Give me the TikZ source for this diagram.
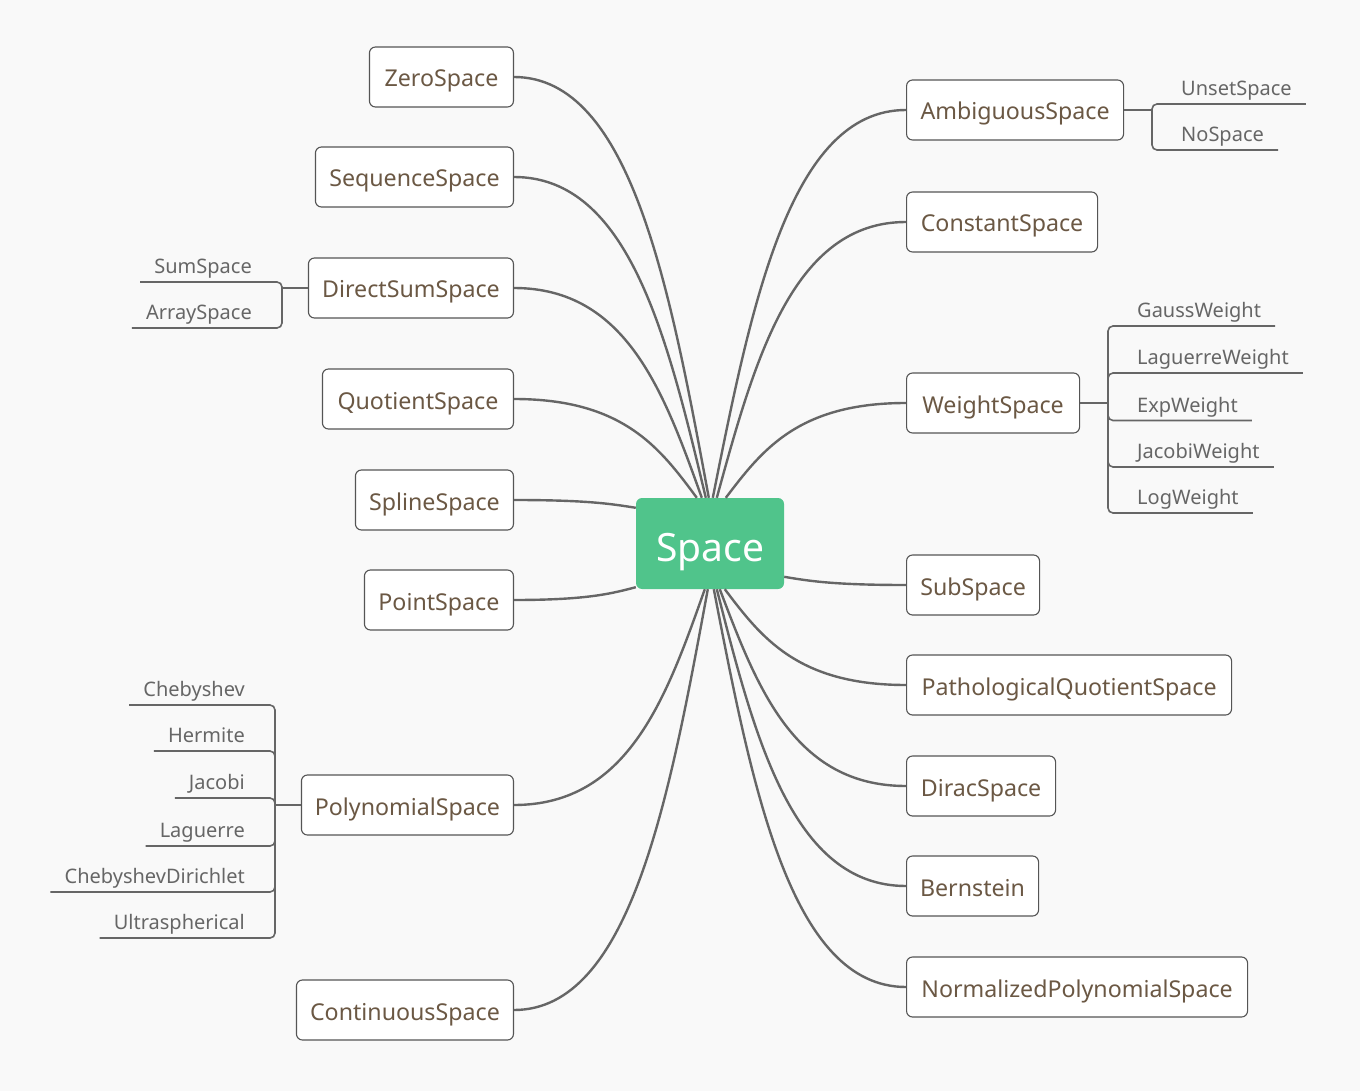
\documentclass[tikz,border=0pt]{standalone}
\usepackage{fontspec}
\setmainfont{Noto Sans}
\usetikzlibrary{calc}
\definecolor{bg}{HTML}{F9F9F9}
\definecolor{lnc}{HTML}{666666}
\definecolor{txt}{HTML}{6B5844}
\definecolor{bdr}{HTML}{555555}
\definecolor{cen}{HTML}{50C48B}
\definecolor{chl}{HTML}{666666}
\tikzset{
 topic/.style={draw=bdr, line width=1.1pt, fill=white, rounded corners=6pt, minimum height=60pt, inner xsep=0pt, text=txt, font=\fontsize{23.2}{28}\selectfont, text height=20pt, text depth=0pt},
 central/.style={fill=cen, rounded corners=6pt, minimum width=148pt, minimum height=91pt, inner sep=0pt, text=white, font=\fontsize{39}{46}\selectfont, text height=36pt, text depth=0pt},
 leaf/.style={text=chl, font=\fontsize{20}{24}\selectfont, inner sep=0pt},
 conn/.style={draw=lnc, line width=2.4pt},
 subl/.style={draw=lnc, line width=1.6pt, rounded corners=5pt},
}
\newcommand\mybranch[2]{\draw[conn] let \p1=(#1), \p2=(#2) in (\p1) .. controls (0.4*\x1+0.6*\x2, \y1) and (0.2*\x1+0.8*\x2, 0.5*\y1+0.5*\y2) .. (\p2);}
\begin{document}
\begin{tikzpicture}[x=1pt,y=-1pt]
\fill[bg] (0,0) rectangle (1360,1091);
\useasboundingbox (0,0) rectangle (1360,1091);
\node[central] (space) at (710,543.5) {Space};
% left topics
\node[topic, minimum width=144pt, anchor=east] (zero) at (514,77) {ZeroSpace};
\node[topic, minimum width=198pt, anchor=east] (seq) at (514,177) {SequenceSpace};
\node[topic, minimum width=205pt, anchor=east] (dsum) at (514,288) {DirectSumSpace};
\node[topic, minimum width=191pt, anchor=east] (quo) at (514,399) {QuotientSpace};
\node[topic, minimum width=158pt, anchor=east] (spl) at (514,500) {SplineSpace};
\node[topic, minimum width=149pt, anchor=east] (pt) at (514,600) {PointSpace};
\node[topic, minimum width=212pt, anchor=east] (poly) at (514,805) {PolynomialSpace};
\node[topic, minimum width=217pt, anchor=east] (cont) at (514,1010) {ContinuousSpace};
% right topics
\node[topic, minimum width=217pt, anchor=west] (amb) at (906,110) {AmbiguousSpace};
\node[topic, minimum width=191pt, anchor=west] (con) at (906,222) {ConstantSpace};
\node[topic, minimum width=173pt, anchor=west] (wei) at (906,403) {WeightSpace};
\node[topic, minimum width=133pt, anchor=west] (sub) at (906,585) {SubSpace};
\node[topic, minimum width=325pt, anchor=west] (path) at (906,685) {PathologicalQuotientSpace};
\node[topic, minimum width=149pt, anchor=west] (dir) at (906,786) {DiracSpace};
\node[topic, minimum width=132pt, anchor=west] (bern) at (906,886) {Bernstein};
\node[topic, minimum width=341pt, anchor=west] (norm) at (906,987) {NormalizedPolynomialSpace};
% targets on the central node
\coordinate (tQuo) at ($(space.north west)+(61,0)$);
\coordinate (tDS) at ($(space.north west)+(66,0)$);
\coordinate (tSeq) at ($(space.north west)+(70,0)$);
\coordinate (tZero) at ($(space.north west)+(73,0)$);
\coordinate (tAmb) at ($(space.north west)+(77,0)$);
\coordinate (tCon) at ($(space.north west)+(81,0)$);
\coordinate (tWei) at ($(space.north west)+(90,0)$);
\coordinate (tPoly) at ($(space.south west)+(69,0)$);
\coordinate (tCont) at ($(space.south west)+(72,0)$);
\coordinate (tNorm) at ($(space.south west)+(78,0)$);
\coordinate (tBern) at ($(space.south west)+(81,0)$);
\coordinate (tDir) at ($(space.south west)+(84,0)$);
\coordinate (tPath) at ($(space.south west)+(89,0)$);
\coordinate (tSpl) at ($(space.north west)+(0,10)$);
\coordinate (tPt) at ($(space.south west)+(0,-2)$);
\coordinate (tSub) at ($(space.north east)+(0,79)$);
% main connectors
\mybranch{zero.east}{tZero}
\mybranch{seq.east}{tSeq}
\mybranch{dsum.east}{tDS}
\mybranch{quo.east}{tQuo}
\mybranch{spl.east}{tSpl}
\mybranch{pt.east}{tPt}
\mybranch{poly.east}{tPoly}
\mybranch{cont.east}{tCont}
\mybranch{amb.west}{tAmb}
\mybranch{con.west}{tCon}
\mybranch{wei.west}{tWei}
\mybranch{sub.west}{tSub}
\mybranch{path.west}{tPath}
\mybranch{dir.west}{tDir}
\mybranch{bern.west}{tBern}
\mybranch{norm.west}{tNorm}
% AmbiguousSpace children
\coordinate (ambj) at (1152,110);
\draw[subl] (amb.east) -- (ambj);
\node[leaf, anchor=base west] (unset) at (1181,95.5) {UnsetSpace};
\node[leaf, anchor=base west] (nosp) at (1181,141.5) {NoSpace};
\draw[subl] (ambj) |- ($(unset.base east)+(14,8.5)$);
\draw[subl] (ambj) |- ($(nosp.base east)+(14,8.5)$);
% WeightSpace children
\coordinate (weij) at (1108,403);
\draw[subl] (wei.east) -- (weij);
\node[leaf, anchor=base west] (gw) at (1137,317.5) {GaussWeight};
\node[leaf, anchor=base west] (lw) at (1137,364.5) {LaguerreWeight};
\node[leaf, anchor=base west] (ew) at (1137,412) {ExpWeight};
\node[leaf, anchor=base west] (jw) at (1137,458.5) {JacobiWeight};
\node[leaf, anchor=base west] (logw) at (1137,504.5) {LogWeight};
\foreach \n in {gw,lw,ew,jw,logw}{\draw[subl] (weij) |- ($(\n.base east)+(14,8.5)$);}
% DirectSumSpace children
\coordinate (dsj) at (282,288);
\draw[subl] (dsum.west) -- (dsj);
\node[leaf, anchor=base east] (sums) at (252,273.5) {SumSpace};
\node[leaf, anchor=base east] (arrs) at (252,319.5) {ArraySpace};
\foreach \n in {sums,arrs}{\draw[subl] (dsj) |- ($(\n.base west)+(-14,8.5)$);}
% PolynomialSpace children
\coordinate (polyj) at (275,805);
\draw[subl] (poly.west) -- (polyj);
\node[leaf, anchor=base east] (cheb) at (245,696.5) {Chebyshev};
\node[leaf, anchor=base east] (herm) at (245,742.5) {Hermite};
\node[leaf, anchor=base east] (jac) at (245,789.5) {Jacobi};
\node[leaf, anchor=base east] (lag) at (245,837.5) {Laguerre};
\node[leaf, anchor=base east] (chd) at (245,883.5) {ChebyshevDirichlet};
\node[leaf, anchor=base east] (ult) at (245,929.5) {Ultraspherical};
\foreach \n in {cheb,herm,jac,lag,chd,ult}{\draw[subl] (polyj) |- ($(\n.base west)+(-14,8.5)$);}
\end{tikzpicture}
\end{document}
